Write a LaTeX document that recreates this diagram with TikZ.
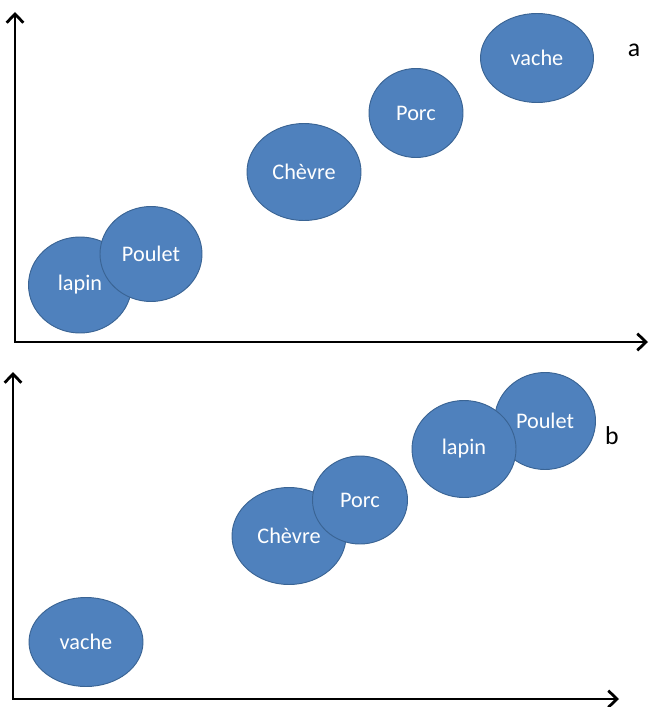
\documentclass[tikz,border=0pt]{standalone}
\usepackage{fontspec}
\setmainfont{Carlito}
\usetikzlibrary{arrows.meta, shapes.geometric}
\definecolor{blob}{HTML}{4F81BD}
\definecolor{blobline}{HTML}{3A6494}
\tikzset{animal/.style = {ellipse, fill = blob, draw = blobline, line width = 0.8pt, inner sep = 0pt, text = white, font = \fontsize{19}{21}\selectfont}}
\tikzset{axis/.style = {line width = 2.4pt, {Straight Barb[length=2.6mm, width=5mm, line width=2.4pt]}-{Straight Barb[length=2.6mm, width=5mm, line width=2.4pt]}}}
\tikzset{tag/.style = {font = \fontsize{22}{24}\selectfont}}

\begin{document}
\begin{tikzpicture}[x=0.03cm, y=-0.03cm]
\useasboundingbox (0,0) rectangle (651,707);
\coordinate (topA) at (15,12);
\coordinate (origA) at (15,342);
\coordinate (endA) at (648,342);
\draw[axis] (topA) -- (origA) -- (endA);
\node[animal, minimum width=3.09cm, minimum height=2.88cm] (lapinA) at (80,285) {lapin};
\node[animal, minimum width=3.06cm, minimum height=2.85cm] (pouletA) at (151,254) {Poulet};
\node[animal, minimum width=3.42cm, minimum height=2.91cm] (chevreA) at (304,172) {Chèvre};
\node[animal, minimum width=2.82cm, minimum height=2.67cm] (porcA) at (416,113) {Porc};
\node[animal, minimum width=3.39cm, minimum height=2.67cm] (vacheA) at (537,58) {vache};
\node[tag] (labelA) at (634,50) {a};

\coordinate (topB) at (13,372);
\coordinate (origB) at (13,699);
\coordinate (endB) at (619,699);
\draw[axis] (topB) -- (origB) -- (endB);
\node[animal, minimum width=3.42cm, minimum height=2.67cm] (vacheB) at (86,642) {vache};
\node[animal, minimum width=3.42cm, minimum height=2.91cm] (chevreB) at (289,536) {Chèvre};
\node[animal, minimum width=2.85cm, minimum height=2.64cm] (porcB) at (360,500) {Porc};
\node[animal, minimum width=3.03cm, minimum height=2.91cm] (pouletB) at (545,421) {Poulet};
\node[animal, minimum width=3.12cm, minimum height=2.91cm] (lapinB) at (464,449) {lapin};
\node[tag] (labelB) at (612,436) {b};
\end{tikzpicture}
\end{document}
